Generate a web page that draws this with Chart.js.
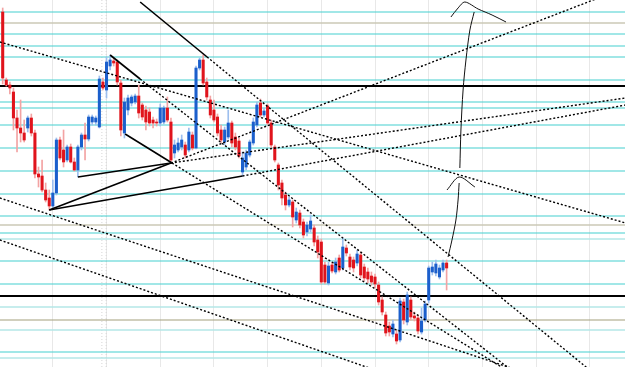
<!DOCTYPE html>
<html>
<head>
<meta charset="utf-8">
<script src="https://cdn.jsdelivr.net/npm/chart.js@4.4.1/dist/chart.umd.min.js"></script>
<style>
  html, body { margin: 0; padding: 0; background: #fff; }
</style>
</head>
<body>
<canvas id="grafico" width="625" height="367"></canvas>
<script>
// candles (index 0..124), prices
var abertura = [1.3288,1.3220,1.3215,1.3208,1.3182,1.3172,1.3167,1.3172,1.3182,1.3167,
  1.3126,1.3124,1.3110,1.3102,1.3094,1.3107,1.3160,1.3150,1.3140,1.3153,
  1.3138,1.3130,1.3153,1.3165,1.3161,1.3178,1.3178,1.3173,1.3218,1.3210,
  1.3234,1.3239,1.3238,1.3217,1.3167,1.3190,1.3197,1.3198,1.3204,1.3195,
  1.3190,1.3188,1.3180,1.3178,1.3177,1.3178,1.3192,1.3178,1.3147,1.3150,
  1.3153,1.3155,1.3150,1.3165,1.3152,1.3232,1.3240,1.3218,1.3200,1.3190,
  1.3183,1.3170,1.3158,1.3163,1.3177,1.3163,1.3159,1.3128,1.3133,1.3145,
  1.3157,1.3175,1.3197,1.3185,1.3194,1.3177,1.3153,1.3135,1.3117,1.3105,
  1.3095,1.3098,1.3080,1.3087,1.3078,1.3068,1.3071,1.3072,1.3060,1.3058,
  1.3035,1.3017,1.3035,1.3028,1.3042,1.3032,1.3052,1.3043,1.3040,1.3037,
  1.3045,1.3033,1.3028,1.3024,1.3023,1.3015,1.3000,1.2985,1.2974,1.2966,
  1.2966,1.2960,1.2998,1.2978,1.3000,1.2984,1.2982,1.2968,1.2980,1.3000,
  1.3028,1.3027,1.3023,1.3030,1.3037];
var maxima = [1.3292,1.3222,1.3218,1.3212,1.3190,1.3200,1.3180,1.3184,1.3186,1.3170,
  1.3133,1.3140,1.3117,1.3110,1.3120,1.3162,1.3163,1.3170,1.3155,1.3156,
  1.3142,1.3155,1.3167,1.3177,1.3185,1.3185,1.3184,1.3224,1.3222,1.3243,
  1.3245,1.3242,1.3240,1.3220,1.3202,1.3205,1.3205,1.3206,1.3215,1.3197,
  1.3194,1.3192,1.3183,1.3181,1.3196,1.3194,1.3203,1.3182,1.3160,1.3162,
  1.3165,1.3158,1.3172,1.3168,1.3234,1.3242,1.3245,1.3222,1.3204,1.3200,
  1.3186,1.3175,1.3173,1.3190,1.3179,1.3167,1.3162,1.3148,1.3150,1.3160,
  1.3182,1.3198,1.3201,1.3192,1.3196,1.3180,1.3155,1.3137,1.3120,1.3108,
  1.3103,1.3100,1.3092,1.3090,1.3081,1.3078,1.3085,1.3075,1.3064,1.3061,
  1.3038,1.3038,1.3038,1.3042,1.3045,1.3062,1.3055,1.3046,1.3043,1.3050,
  1.3048,1.3036,1.3032,1.3028,1.3026,1.3018,1.3003,1.2988,1.2978,1.2980,
  1.2970,1.3002,1.3001,1.3008,1.3003,1.2988,1.2985,1.2992,1.2999,1.3034,
  1.3038,1.3040,1.3035,1.3040,1.3040];
var minima = [1.3216,1.3214,1.3206,1.3170,1.3148,1.3158,1.3158,1.3168,1.3164,1.3122,
  1.3113,1.3108,1.3098,1.3090,1.3091,1.3105,1.3140,1.3133,1.3138,1.3137,
  1.3129,1.3123,1.3150,1.3140,1.3159,1.3175,1.3175,1.3172,1.3210,1.3202,
  1.3230,1.3234,1.3215,1.3164,1.3162,1.3185,1.3194,1.3196,1.3182,1.3180,
  1.3170,1.3174,1.3172,1.3174,1.3174,1.3176,1.3178,1.3137,1.3142,1.3148,
  1.3150,1.3142,1.3148,1.3150,1.3151,1.3230,1.3215,1.3200,1.3182,1.3178,
  1.3164,1.3157,1.3155,1.3161,1.3153,1.3150,1.3142,1.3124,1.3130,1.3143,
  1.3155,1.3173,1.3183,1.3183,1.3175,1.3152,1.3138,1.3110,1.3095,1.3090,
  1.3093,1.3073,1.3077,1.3072,1.3062,1.3064,1.3068,1.3054,1.3042,1.3016,
  1.3016,1.3015,1.3027,1.3026,1.3028,1.3030,1.3044,1.3030,1.3028,1.3034,
  1.3022,1.3019,1.3017,1.3015,1.3012,1.2995,1.2985,1.2964,1.2964,1.2963,
  1.2956,1.2958,1.2976,1.2975,1.2980,1.2979,1.2966,1.2966,1.2978,1.2997,
  1.3025,1.3024,1.3021,1.3028,1.3010];
var fechamento = [1.3222,1.3215,1.3212,1.3182,1.3172,1.3167,1.3160,1.3182,1.3167,1.3126,
  1.3123,1.3110,1.3100,1.3094,1.3107,1.3160,1.3142,1.3138,1.3153,1.3138,
  1.3130,1.3153,1.3165,1.3161,1.3183,1.3183,1.3182,1.3221,1.3212,1.3238,
  1.3240,1.3237,1.3218,1.3170,1.3198,1.3202,1.3203,1.3204,1.3187,1.3183,
  1.3178,1.3177,1.3177,1.3177,1.3192,1.3192,1.3180,1.3140,1.3155,1.3157,
  1.3160,1.3145,1.3168,1.3152,1.3232,1.3240,1.3217,1.3203,1.3185,1.3180,
  1.3167,1.3160,1.3170,1.3177,1.3157,1.3153,1.3144,1.3142,1.3147,1.3158,
  1.3178,1.3195,1.3185,1.3189,1.3177,1.3155,1.3140,1.3115,1.3102,1.3095,
  1.3100,1.3083,1.3088,1.3075,1.3065,1.3075,1.3079,1.3058,1.3048,1.3018,
  1.3018,1.3034,1.3029,1.3038,1.3030,1.3053,1.3047,1.3033,1.3032,1.3046,
  1.3025,1.3022,1.3021,1.3018,1.3016,1.2998,1.2988,1.2967,1.2968,1.2976,
  1.2959,1.2999,1.2980,1.3005,1.2983,1.2982,1.2969,1.2979,1.2996,1.3032,
  1.3033,1.3036,1.3032,1.3037,1.3032];

// horizontal levels
var niveisCiano = [1.3288,1.3266,1.3254,1.3243,1.3220,1.3198,1.3192,1.3175,1.3152,1.3129,1.3106,1.3084,1.3067,1.3039,1.3016,1.2948];
var niveisClaros = [1.3061,1.2993,1.2970,1.2942];
var niveisBege = [1.3277,1.3075];
var niveisOliva = [1.2980];
var niveisPretos = [1.3214,1.3004];

// trend lines [x1, y1, x2, y2]
var linhasCheias = [
  [13, 1.3090, 47, 1.3137],
  [21, 1.3123, 47, 1.3137],
  [13, 1.3090, 67, 1.3124],
  [30, 1.3245, 38.4, 1.3221],
  [38.4, 1.3298, 57.1, 1.3243],
  [34.2, 1.3166, 47.3, 1.3137]
];
var linhasPontilhadas = [
  [47, 1.3137, 170, 1.3307],
  [47, 1.3137, 174, 1.3202],
  [67, 1.3124, 174, 1.3195],
  [38.4, 1.3221, 142, 1.2930],
  [57.1, 1.3243, 165, 1.2927],
  [47.3, 1.3137, 142, 1.2927],
  [-0.8, 1.3258, 174, 1.3077],
  [-0.8, 1.3102, 142, 1.2932],
  [-0.8, 1.3060, 104, 1.2930]
];
var separadores = [27.7, 28.9];

// hand drawn arrows
var setas = [
  [[124.4,1.3043],[125.5,1.3060],[126.6,1.3080],[127.2,1.3100],[127.5,1.3117]],
  [[124.1,1.3110],[127.5,1.3123],[131.9,1.3113]],
  [[127.7,1.3132],[128.0,1.3170],[128.6,1.3210],[129.4,1.3240],[130.5,1.3270],[131.7,1.3288]],
  [[125.2,1.3283],[127.2,1.3292],[129.1,1.3298],[132.8,1.3291],[136.7,1.3285],[140.6,1.3278]]
];

var xMin = -0.754, xMax = 173.83;
var yMin = 1.2933, yMax = 1.3300;
var gradeX = [14, 29, 44, 59, 74, 89, 104, 119, 134, 149, 164];

function linha(pontos, cor, largura, traco, ordem) {
  return {
    type: 'line', data: pontos, borderColor: cor, borderWidth: largura,
    borderDash: traco || [], pointRadius: 0, fill: false, tension: 0, order: ordem
  };
}

var conjuntos = [];

niveisCiano.forEach(function(v){ conjuntos.push(linha([{x:xMin,y:v},{x:xMax,y:v}], '#45cfcf', 1.1, null, 5)); });
niveisClaros.forEach(function(v){ conjuntos.push(linha([{x:xMin,y:v},{x:xMax,y:v}], '#b5e7e7', 1.6, null, 5)); });
niveisBege.forEach(function(v){ conjuntos.push(linha([{x:xMin,y:v},{x:xMax,y:v}], '#cbc8b6', 1.4, null, 5)); });
niveisOliva.forEach(function(v){ conjuntos.push(linha([{x:xMin,y:v},{x:xMax,y:v}], '#a39f7c', 1.2, null, 5)); });
niveisPretos.forEach(function(v){ conjuntos.push(linha([{x:xMin,y:v},{x:xMax,y:v}], '#000', 2, null, 4)); });
separadores.forEach(function(v){ conjuntos.push(linha([{x:v,y:yMin},{x:v,y:yMax}], '#d6d6d6', 1, [1,2], 5)); });

var corPavio = [], corCorpo = [], pavios = [], corpos = [];
for (var i = 0; i < abertura.length; i++) {
  var alta = fechamento[i] >= abertura[i];
  pavios.push({x: i, y: [minima[i], maxima[i]]});
  corpos.push({x: i, y: [abertura[i], fechamento[i]]});
  corPavio.push(alta ? '#9dbfee' : '#f3a3a3');
  corCorpo.push(alta ? '#1b5fcc' : '#e0141c');
}
conjuntos.push({type: 'bar', data: pavios, backgroundColor: corPavio, barThickness: 1, grouped: false, order: 3});
conjuntos.push({type: 'bar', data: corpos, backgroundColor: corCorpo, barThickness: 2.4, grouped: false, order: 2});

linhasCheias.forEach(function(s){ conjuntos.push(linha([{x:s[0],y:s[1]},{x:s[2],y:s[3]}], '#000', 1.6, null, 1)); });
linhasPontilhadas.forEach(function(s){ conjuntos.push(linha([{x:s[0],y:s[1]},{x:s[2],y:s[3]}], '#000', 1.4, [2,2], 1)); });
setas.forEach(function(p){
  var l = linha(p.map(function(q){ return {x:q[0], y:q[1]}; }), '#111', 1, null, 0);
  l.tension = 0.3;
  conjuntos.push(l);
});

var ctx = document.getElementById('grafico').getContext('2d');
var chart = new Chart(ctx, {
  type: 'bar',
  data: { datasets: conjuntos },
  options: {
    responsive: false,
    animation: false,
    layout: { padding: 0 },
    plugins: { legend: { display: false }, tooltip: { enabled: false } },
    scales: {
      x: {
        type: 'linear', min: xMin, max: xMax, offset: false,
        afterBuildTicks: function(s){ s.ticks = gradeX.map(function(v){ return {value: v}; }); },
        ticks: { display: false },
        grid: { color: '#e8e8e8', lineWidth: 1, drawTicks: false, offset: false },
        border: { display: false }
      },
      y: { type: 'linear', min: yMin, max: yMax, display: false }
    }
  }
});
</script>
</body>
</html>
